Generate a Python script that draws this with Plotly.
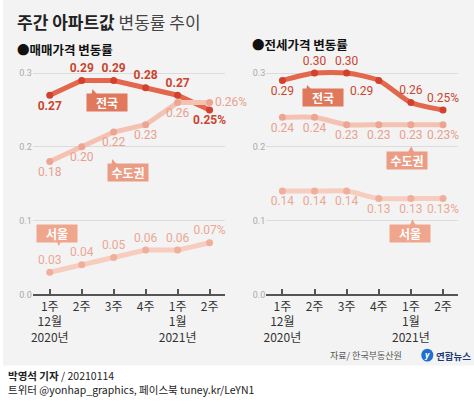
import plotly.graph_objects as go

W, H = 474, 412

weeks = ["1주<br>12월<br>2020년", "2주", "3주", "4주", "1주<br>1월<br>2021년", "2주"]
xs = [0, 1, 2, 3, 4, 5]

sale_nation = [0.27, 0.29, 0.29, 0.28, 0.27, 0.25]
sale_capital = [0.18, 0.20, 0.22, 0.23, 0.26, 0.26]
sale_seoul = [0.03, 0.04, 0.05, 0.06, 0.06, 0.07]

rent_nation = [0.29, 0.30, 0.30, 0.29, 0.26, 0.25]
rent_capital = [0.24, 0.24, 0.23, 0.23, 0.23, 0.23]
rent_seoul = [0.14, 0.14, 0.14, 0.13, 0.13, 0.13]

yticks = [0.0, 0.1, 0.2, 0.3]

FONT = "Roboto, Noto Sans CJK KR, sans-serif"
KFONT = "Noto Sans CJK KR, sans-serif"
NFONT = "Liberation Sans Narrow, Noto Sans CJK KR, sans-serif"

C_NAT_LINE, C_NAT_MK, C_NAT_TX = "#e2674c", "#d2412d", "#c9452f"
C_CAP_LINE, C_CAP_MK, C_CAP_TX = "#f4c2b3", "#eca592", "#e9a08e"
C_SEO_LINE, C_SEO_MK, C_SEO_TX = "#f6cdbf", "#f0ae9b", "#eba793"


def labels(vals, last_pct=True):
    out = ["%.2f" % v for v in vals]
    if last_pct:
        out[-1] += "%"
    return out


def series(vals, pos, line_c, mk_c, tx_c, xa, ya, shape="linear", bold=False):
    return go.Scatter(
        x=xs, y=vals, xaxis=xa, yaxis=ya,
        mode="lines+markers+text",
        line=dict(color=line_c, width=5, shape=shape, smoothing=0.7),
        marker=dict(color=mk_c, size=7),
        text=labels(vals), textposition=pos,
        textfont=dict(family=FONT, size=12, color=tx_c,
                      weight="bold" if bold else "normal"),
        cliponaxis=False, showlegend=False, hoverinfo="skip",
    )


fig = go.Figure()
fig.add_trace(series(sale_nation,
                     ["bottom center", "top center", "top center", "top center", "top center", "bottom center"],
                     C_NAT_LINE, C_NAT_MK, C_NAT_TX, "x", "y", bold=True))
fig.add_trace(series(sale_capital,
                     ["bottom center"] * 5 + ["middle right"],
                     C_CAP_LINE, C_CAP_MK, C_CAP_TX, "x", "y"))
fig.add_trace(series(sale_seoul, ["top center"] * 6,
                     C_SEO_LINE, C_SEO_MK, C_SEO_TX, "x", "y"))

fig.add_trace(series(rent_nation,
                     ["bottom center", "top center", "top center", "bottom left", "top center", "top center"],
                     C_NAT_LINE, C_NAT_MK, C_NAT_TX, "x2", "y2", shape="spline"))
fig.add_trace(series(rent_capital, ["bottom center"] * 6,
                     C_CAP_LINE, C_CAP_MK, C_CAP_TX, "x2", "y2", shape="spline"))
fig.add_trace(series(rent_seoul, ["bottom center"] * 6,
                     C_SEO_LINE, C_SEO_MK, C_SEO_TX, "x2", "y2", shape="spline"))


def px(x):
    return x / W


def py(y):
    return 1 - y / H


xax = dict(tickmode="array", tickvals=xs, ticktext=weeks,
           showgrid=False, zeroline=False, showline=True, linecolor="#555", linewidth=1.5,
           ticks="inside", ticklen=6, tickcolor="#555", tickwidth=1.5,
           tickfont=dict(family=KFONT, size=12, color="#333"), fixedrange=True)
yax = dict(range=[0, 0.31], tickmode="array", tickvals=yticks,
           ticktext=["0.0", "0.1", "0.2", "0.3"],
           showgrid=True, gridcolor="#dcdcdc", gridwidth=1, zeroline=False,
           showline=False, ticks="", tickfont=dict(family=FONT, size=9, color="#aaaaaa"),
           fixedrange=True)

fig.update_layout(
    width=W, height=H, margin=dict(l=0, r=0, t=0, b=0),
    paper_bgcolor="white", plot_bgcolor="rgba(0,0,0,0)",
    xaxis=dict(xax, domain=[px(30), px(223)], range=[-0.53, 5.47]),
    yaxis=dict(yax, domain=[py(298), py(66.5)], anchor="x"),
    xaxis2=dict(xax, domain=[px(265), px(458)], range=[-0.5, 5.47], anchor="y2"),
    yaxis2=dict(yax, domain=[py(298), py(66.5)], anchor="x2"),
)

shapes = [dict(type="rect", xref="paper", yref="paper", x0=0, x1=1, y0=py(370), y1=1,
               fillcolor="#f3f3f3", line_width=0, layer="below")]


def tri(pts, color):
    p = "M " + " L ".join("%f,%f" % (px(a), py(b)) for a, b in pts) + " Z"
    return dict(type="path", xref="paper", yref="paper", path=p, fillcolor=color, line_width=0)


B_NAT, B_CAP, B_SEO = "#e0785c", "#eb9c84", "#f0a68d"
boxes = [
    ("전국", 105, 104, B_NAT, [(89, 97), (96, 97), (90, 90)]),
    ("수도권", 126, 175, B_CAP, [(109, 168), (116, 168), (110, 161)]),
    ("서울", 54, 236, B_SEO, [(53, 242), (60, 242), (56, 249)]),
    ("전국", 322, 99, B_NAT, [(305, 92), (312, 92), (306, 86)]),
    ("수도권", 407, 162, B_CAP, [(407, 155), (414, 155), (411, 148)]),
    ("서울", 410, 236, B_SEO, [(409, 229), (416, 229), (412, 222)]),
]
annotations = []
for txt, cx, cy, col, t in boxes:
    shapes.append(tri(t, col))
    annotations.append(dict(xref="paper", yref="paper", x=px(cx), y=py(cy), text="<b>%s</b>" % txt,
                            showarrow=False, bgcolor=col, width=38, height=15, borderpad=1,
                            font=dict(family=KFONT, size=12, color="white"),
                            xanchor="center", yanchor="middle"))

shapes.append(dict(type="circle", xref="paper", yref="paper", x0=px(421), x1=px(433),
                   y0=py(366), y1=py(353), fillcolor="#1f6fd1", line_width=0))

annotations += [
    dict(xref="paper", yref="paper", x=px(12), y=py(22), xanchor="left", yanchor="middle",
         text="<b>주간 아파트값</b> <span style='color:#444'>변동률 추이</span>", showarrow=False,
         font=dict(family=KFONT, size=17, color="#222")),
    dict(xref="paper", yref="paper", x=px(12), y=py(50), xanchor="left", yanchor="middle",
         text="<b>●매매가격 변동률</b>", showarrow=False,
         font=dict(family=KFONT, size=12.5, color="#111")),
    dict(xref="paper", yref="paper", x=px(249), y=py(45), xanchor="left", yanchor="middle",
         text="<b>●전세가격 변동률</b>", showarrow=False,
         font=dict(family=KFONT, size=12.5, color="#111")),
    dict(xref="paper", yref="paper", x=px(404), y=py(360), xanchor="right", yanchor="middle",
         text="자료/ 한국부동산원", showarrow=False,
         font=dict(family=KFONT, size=9, color="#555")),
    dict(xref="paper", yref="paper", x=px(427), y=py(359.5), xanchor="center", yanchor="middle",
         text="<b><i>y</i></b>", showarrow=False,
         font=dict(family=FONT, size=9, color="white")),
    dict(xref="paper", yref="paper", x=px(434), y=py(360), xanchor="left", yanchor="middle",
         text="<b>연합뉴스</b>", showarrow=False,
         font=dict(family=KFONT, size=9.5, color="#1c3a78")),
    dict(xref="paper", yref="paper", x=px(3), y=py(380), xanchor="left", yanchor="middle",
         text="<b>박영석 기자</b> / 20210114", showarrow=False,
         font=dict(family=NFONT, size=10.5, color="#222")),
    dict(xref="paper", yref="paper", x=px(3), y=py(394), xanchor="left", yanchor="middle",
         text="트위터 @yonhap_graphics, 페이스북 tuney.kr/LeYN1", showarrow=False,
         font=dict(family=NFONT, size=10.5, color="#222")),
]

fig.update_layout(shapes=shapes, annotations=annotations)
fig.write_html("out.html", config={"displayModeBar": False},
               post_script="document.body.style.margin='0px';document.body.style.overflow='hidden';")
